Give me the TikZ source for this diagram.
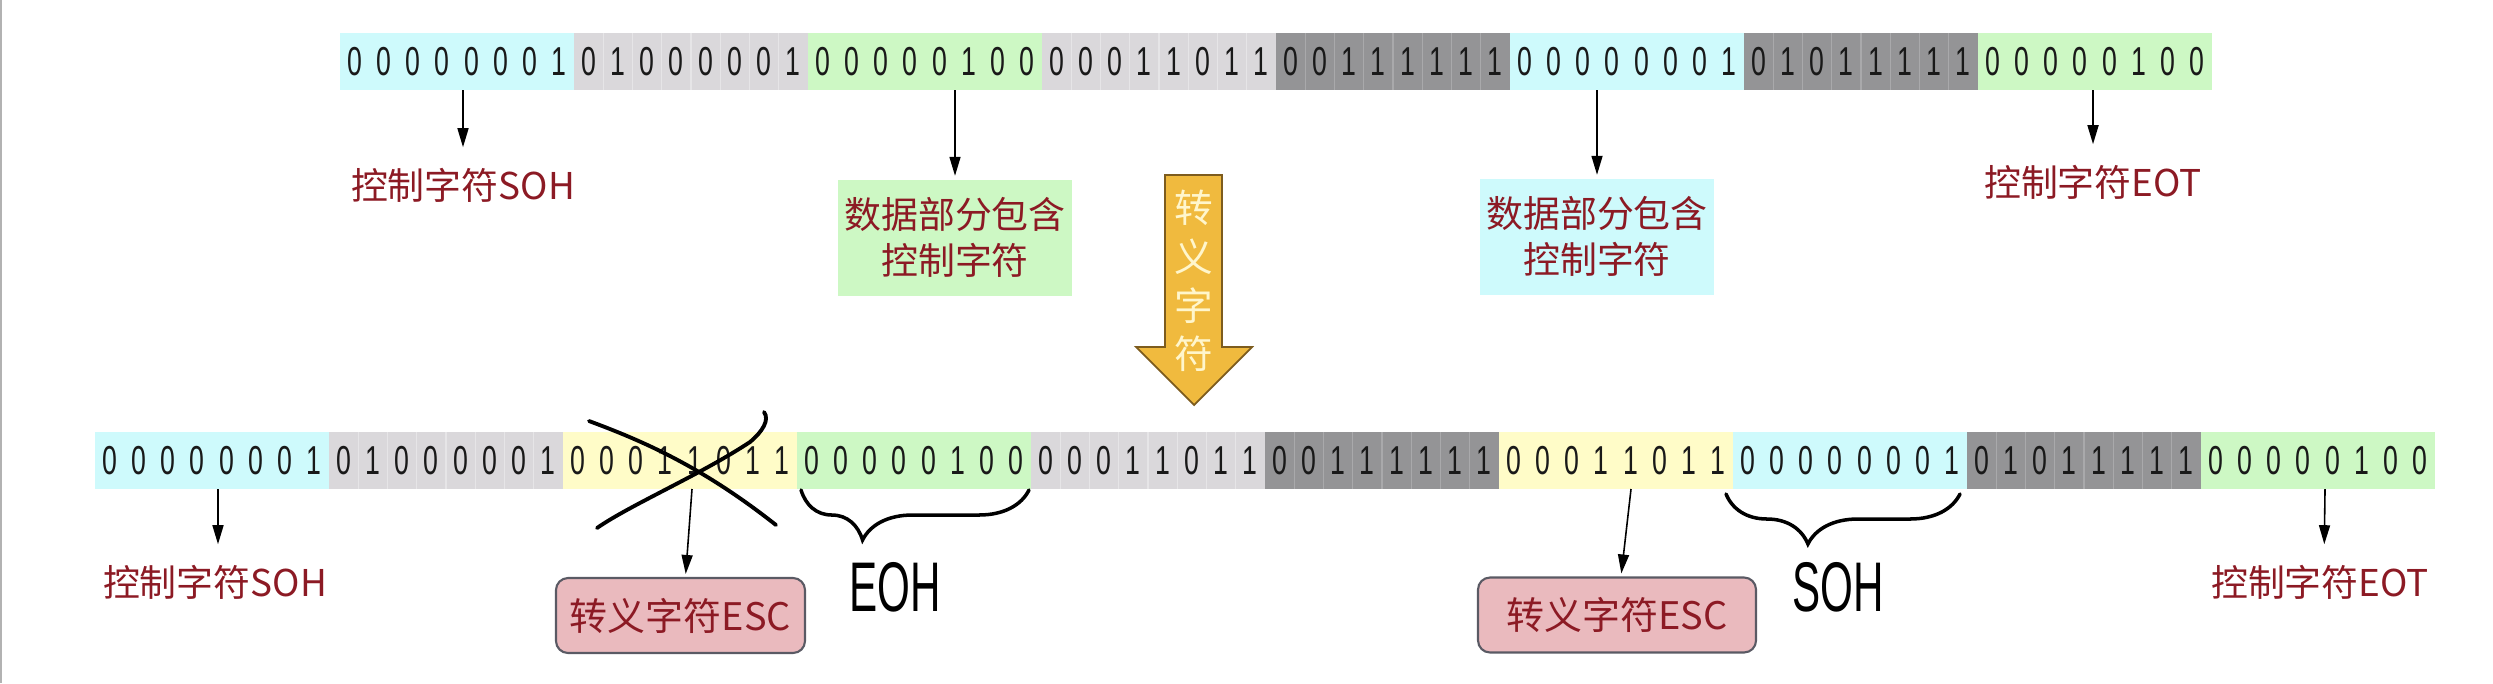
\documentclass[tikz,border=0pt]{standalone}
\usepackage{fontspec}
\usepackage{tikz}
\usetikzlibrary{arrows.meta,positioning,decorations.pathreplacing}
\newfontfamily\cjk{Noto Sans CJK SC}
\newfontfamily\bitfont[FakeStretch=0.66]{Liberation Sans}
\newfontfamily\handfont[FakeStretch=0.6]{Liberation Sans}
\definecolor{cyanc}{RGB}{206,250,252}
\definecolor{lgrayc}{RGB}{218,216,219}
\definecolor{dgrayc}{RGB}{148,148,150}
\definecolor{greenc}{RGB}{205,248,196}
\definecolor{yellowc}{RGB}{255,252,200}
\definecolor{pinkc}{RGB}{234,186,190}
\definecolor{pinkline}{RGB}{90,90,100}
\definecolor{redtext}{RGB}{140,26,36}
\definecolor{orangec}{RGB}{240,186,62}
\definecolor{orangeline}{RGB}{125,92,30}
\definecolor{creamtext}{RGB}{255,246,204}
\newlength\cellw
\setlength\cellw{2.925mm}
\newcommand\bitcells[8]{\makebox[\cellw]{#1}\makebox[\cellw]{#2}\makebox[\cellw]{#3}\makebox[\cellw]{#4}\makebox[\cellw]{#5}\makebox[\cellw]{#6}\makebox[\cellw]{#7}\makebox[\cellw]{#8}}

\begin{document}
\begin{tikzpicture}[x=0.1mm,y=-0.1mm,
   seg/.style={minimum width=23.4mm,minimum height=5.7mm,inner sep=0pt,outer sep=0pt,
     font=\bitfont\fontsize{11.5pt}{12pt}\selectfont,text=black!90},
   cellline/.style={white,line width=0.4pt},
   lbl/.style={font=\cjk\fontsize{10.5pt}{12pt}\selectfont,text=redtext,inner sep=0pt},
   databox/.style={font=\cjk\fontsize{10.5pt}{13pt}\selectfont,text=redtext,align=center,
     minimum width=23.4mm,minimum height=11.6mm,inner sep=0pt},
   escbox/.style={draw=pinkline,fill=pinkc,rounded corners=1.2mm,line width=0.6pt,
     font=\cjk\fontsize{10.8pt}{12pt}\selectfont,text=redtext,minimum height=7.5mm,inner sep=0pt},
   arr/.style={-{Triangle[length=1.9mm,width=1.1mm]},line width=0.45pt},
   escarrow/.style={fill=orangec,draw=orangeline,line width=0.5pt},
   arrowtext/.style={font=\cjk\fontsize{11pt}{13.9pt}\selectfont,text=creamtext,align=center,inner sep=0pt},
   hand/.style={font=\handfont\fontsize{20pt}{24pt}\selectfont,inner sep=0pt},
   handline/.style={line width=1.1pt,line cap=round},
   handbrace/.style={line width=1pt,line cap=round,decorate}]
   \useasboundingbox (0,0) rectangle (2493,683);
   \draw[black!30,line width=0.25mm] (1,0) -- (1,683);

   \foreach \colr/\op/\bits [count=\i] in {cyanc/0/00000001,lgrayc/0.35/01000001,greenc/0/00000100,
       lgrayc/0.35/00011011,dgrayc/0.2/00111111,cyanc/0/00000001,dgrayc/0.2/01011111,greenc/0/00000100}{
     \node[seg,fill=\colr] (t\i) at ({340+(\i-0.5)*234},61.5) {\expandafter\bitcells\bits};
     \foreach \k in {1,...,7}
       \draw[cellline,opacity=\op] ([xshift=\k*\cellw]t\i.north west) -- ([xshift=\k*\cellw]t\i.south west);
   }
   \foreach \colr/\op/\bits [count=\i] in {cyanc/0/00000001,lgrayc/0.35/01000001,yellowc/0/00011011,
       greenc/0/00000100,lgrayc/0.35/00011011,dgrayc/0.2/00111111,yellowc/0/00011011,cyanc/0/00000001,
       dgrayc/0.2/01011111,greenc/0/00000100}{
     \node[seg,fill=\colr] (b\i) at ({95+(\i-0.5)*234},460.5) {\expandafter\bitcells\bits};
     \foreach \k in {1,...,7}
       \draw[cellline,opacity=\op] ([xshift=\k*\cellw]b\i.north west) -- ([xshift=\k*\cellw]b\i.south west);
   }

   \node[lbl] (sohT) at (463,185) {控制字符SOH};
   \node[databox,fill=greenc] (dataA) at (955,237.5) {数据部分包含\\控制字符};
   \node[databox,fill=cyanc] (dataB) at (1597,236.5) {数据部分包含\\控制字符};
   \node[lbl] (eotT) at (2093,182) {控制字符EOT};
   \draw[arr,shorten >=2mm] (t1.south -| sohT) -- (sohT);
   \draw[arr,shorten >=0.3mm] (t3.south -| dataA) -- (dataA);
   \draw[arr,shorten >=0.3mm] (t6.south -| dataB) -- (dataB);
   \draw[arr,shorten >=2mm] (t8.south -| eotT) -- (eotT);

   \draw[escarrow] (1165,175) -- (1222,175) -- (1222,347) -- (1252,347) -- (1194,405)
     -- (1136,347) -- (1165,347) -- cycle;
   \node[arrowtext] (esc) at (1194,281) {转\\义\\字\\符};

   \node[lbl] (sohB) at (215,582) {控制字符SOH};
   \node[escbox,minimum width=24.9mm] (escA) at (680.5,615.5) {转义字符ESC};
   \node[escbox,minimum width=27.8mm] (escB) at (1617,615) {转义字符ESC};
   \node[lbl] (eotB) at (2320,582) {控制字符EOT};
   \draw[arr,shorten >=2mm] ([xshift=0.6mm]b1.south) -- ([xshift=0.3mm]sohB.north);
   \draw[arr,shorten >=0.3mm] ([xshift=1.2mm]b3.south) -- ([xshift=0.5mm]escA.north);
   \draw[arr,shorten >=0.3mm] ([xshift=1.5mm]b7.south) -- ([xshift=0.4mm]escB.north);
   \draw[arr,shorten >=2mm] ([xshift=0.7mm]b10.south) -- ([xshift=0.4mm]eotB.north);

   \draw[handline] (589,421) .. controls (640,440) and (700,465) .. (776,525);
   \draw[handline] (764,412) .. controls (770,420) and (762,432) .. (750,442)
     .. controls (700,475) and (630,505) .. (597,528);
   \draw[handbrace,decoration={brace,mirror,amplitude=5mm,aspect=0.27}]
     ([xshift=0.4mm,yshift=-0.1mm]b4.south west) -- ([xshift=-0.2mm,yshift=-0.1mm]b4.south east);
   \draw[handbrace,decoration={brace,mirror,amplitude=5mm,aspect=0.35}]
     ([xshift=-0.7mm,yshift=-0.5mm]b8.south west) -- ([xshift=-0.7mm,yshift=-0.5mm]b8.south east);
   \node[hand] (eoh) at (895,587) {EOH};
   \node[hand] (sohH) at (1838,587) {SOH};
\end{tikzpicture}
\end{document}
